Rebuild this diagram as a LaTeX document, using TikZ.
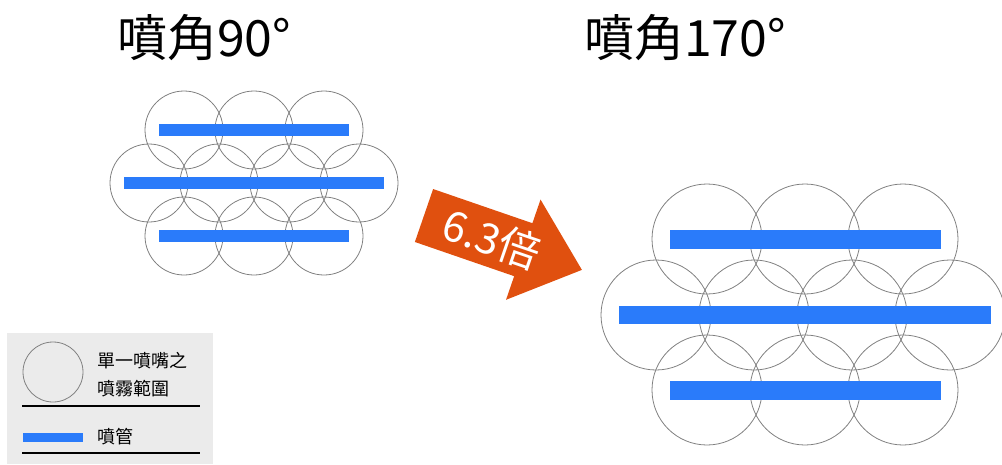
\documentclass[tikz,border=0pt]{standalone}
\usepackage{fontspec}
\setmainfont{Noto Sans CJK TC}
\usepackage{xcolor}
\usetikzlibrary{positioning}

\definecolor{pipeblue}{HTML}{2A7BFA}
\definecolor{arroworange}{HTML}{E0500F}
\definecolor{legendgray}{HTML}{EBEBEB}

\begin{document}
\begin{tikzpicture}[
    x=1pt, y=-1pt,
    spray/.style={draw=black!50, line width=0.8pt},
    pipe/.style={fill=pipeblue},
    title/.style={font=\fontsize{50}{56}\selectfont, inner sep=0pt},
    legtext/.style={font=\fontsize{18}{28}\selectfont, inner sep=0pt, align=left},
    rule/.style={line width=2.2pt}
]
\useasboundingbox (0,0) rectangle (1002,464);

% titles
\node[title] (t90) at (204,38) {噴角90°};
\node[title] (t170) at (685,38) {噴角170°};

% 90 degree nozzles
\foreach \x in {184,254,324} {
  \draw[spray] (\x,130) circle (39);
  \draw[spray] (\x,236) circle (39);
}
\foreach \x in {149,219,289,359}
  \draw[spray] (\x,183) circle (39);
\fill[pipe] (159,124) rectangle (349,136);
\fill[pipe] (124,177) rectangle (384,189);
\fill[pipe] (159,230) rectangle (349,242);

% 170 degree nozzles
\foreach \x in {707,805,903} {
  \draw[spray] (\x,239) circle (55);
  \draw[spray] (\x,390) circle (55);
}
\foreach \x in {656,754,852,950}
  \draw[spray] (\x,315) circle (55);
\fill[pipe] (670,230) rectangle (941,249);
\fill[pipe] (619,306) rectangle (991,324);
\fill[pipe] (670,381) rectangle (941,400);

% arrow
\begin{scope}[shift={(424,215.5)}, rotate=-19]
  \fill[arroworange] (0,-28) -- (105,-28) -- (105,-53) -- (167,0)
    -- (105,53) -- (105,28) -- (0,28) -- cycle;
  \node[text=white, font=\fontsize{42}{44}\selectfont, rotate=-19,
    inner sep=0pt] (ratio) at (72,0) {6.3倍};
\end{scope}

% legend
\fill[legendgray] (7,333) rectangle (213,464);
\draw[spray] (53,372) circle (30);
\node[legtext, anchor=west] (legspray) at (97,375) {單一噴嘴之\\噴霧範圍};
\draw[rule] (22,406) -- (200,406);
\fill[pipe] (23,433) rectangle (83,442);
\node[legtext, anchor=west] (legpipe) at (97,437) {噴管};
\draw[rule] (22,453) -- (200,453);
\end{tikzpicture}
\end{document}
